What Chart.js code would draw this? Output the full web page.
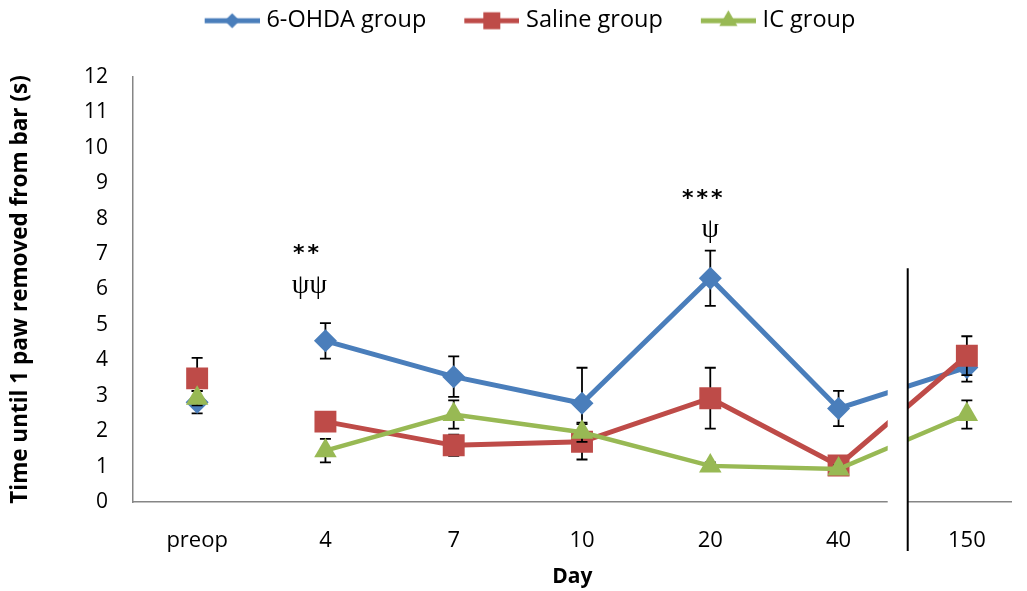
<!DOCTYPE html>
<html><head><meta charset="utf-8">
<script src="https://cdn.jsdelivr.net/npm/chart.js@4.4.1/dist/chart.umd.min.js"></script>
<style>html,body{margin:0;padding:0;background:#fff;overflow:hidden}#wrap{width:1027px;height:591px;position:relative}</style>
</head><body><div id="wrap"><canvas id="c"></canvas></div>
<script>
const categories = ['preop', '4', '7', '10', '20', '40', '150'];
const seriesNames = ['6-OHDA group', 'Saline group', 'IC group'];
const ohdaValues   = [2.82, 4.55, 3.54, 2.79, 6.32, 2.64, 3.80];
const ohdaErrors   = [0.32, 0.50, 0.57, 1.00, 0.78, 0.50, 0.40];
const salineValues = [3.49, 2.27, 1.60, 1.70, 2.93, 1.03, 4.13];
const salineErrors = [0.58, 0.25, 0.30, 0.50, 0.86, 0.20, 0.55];
const icValues     = [2.93, 1.45, 2.47, 1.97, 1.02, 0.93, 2.47];
const icErrors     = [0.20, 0.33, 0.40, 0.27, 0.10, 0.10, 0.40];
const yTickValues  = [0, 1, 2, 3, 4, 5, 6, 7, 8, 9, 10, 11, 12];
const annotTexts    = ['**', '\u03C8\u03C8', '***', '\u03C8'];
const annotCategory = [1, 1, 4, 4];
const annotShift    = [-0.14, -0.125, -0.05, 0];
const annotYValues  = [7.0, 6.1, 8.55, 7.7];

const colors = ['#4A7EBB', '#BE4B48', '#98B954'];
const styles = ['rectRot', 'rect', 'triangle'];
const radii = [11.5, 15.5, 13];
const legendRadii = [7.5, 12, 10.5];

function pts(vals) { return vals.map((v, i) => ({ x: i, y: v })); }

function legendIcon(i) {
  const W = 93, H = 26;
  const cv = document.createElement('canvas');
  cv.width = W; cv.height = H;
  const c = cv.getContext('2d');
  c.strokeStyle = colors[i]; c.lineWidth = 5;
  c.beginPath(); c.moveTo(W - 55, 13); c.lineTo(W, 13); c.stroke();
  c.fillStyle = colors[i];
  Chart.helpers.drawPoint(c, { pointStyle: styles[i], radius: legendRadii[i], rotation: 0, borderWidth: 0 }, W - 27.5, 13);
  return cv;
}

const errorBars = {
  id: 'errorBars',
  beforeDatasetDraw(chart, args) {
    const ds = chart.data.datasets[args.index];
    const ys = chart.scales.y, ctx = chart.ctx;
    ctx.save();
    ctx.strokeStyle = '#000'; ctx.lineWidth = 1.8;
    args.meta.data.forEach((pt, i) => {
      const v = ds.data[i].y, e = ds.errors[i];
      const t = ys.getPixelForValue(v + e), b = ys.getPixelForValue(v - e);
      ctx.beginPath();
      ctx.moveTo(pt.x, t); ctx.lineTo(pt.x, b);
      ctx.moveTo(pt.x - 5.5, t); ctx.lineTo(pt.x + 5.5, t);
      ctx.moveTo(pt.x - 5.5, b); ctx.lineTo(pt.x + 5.5, b);
      ctx.stroke();
    });
    ctx.restore();
  }
};

const axisBreak = {
  id: 'axisBreak',
  afterDatasetsDraw(chart) {
    const xs = chart.scales.x, ys = chart.scales.y, ctx = chart.ctx, a = chart.chartArea;
    const x0 = xs.getPixelForValue(5.383), x1 = xs.getPixelForValue(5.539);
    ctx.save();
    ctx.fillStyle = '#fff';
    ctx.fillRect(x0, a.top - 2, x1 - x0, a.bottom - a.top + 4);
    ctx.strokeStyle = '#000'; ctx.lineWidth = 2;
    ctx.beginPath();
    ctx.moveTo(x1, ys.getPixelForValue(6.6)); ctx.lineTo(x1, a.bottom + 49);
    ctx.stroke();
    ctx.restore();
  }
};

const annotations = {
  id: 'annotations',
  afterDatasetsDraw(chart) {
    const xs = chart.scales.x, ys = chart.scales.y, ctx = chart.ctx;
    ctx.save();
    ctx.fillStyle = '#000'; ctx.textAlign = 'center'; ctx.textBaseline = 'middle';
    annotTexts.forEach((t, i) => {
      const isStar = t.indexOf('*') >= 0;
      ctx.font = isStar ? 'bold 22px "DejaVu Sans"' : '28px "Liberation Serif"';
      ctx.letterSpacing = isStar ? '3px' : '0px';
      ctx.fillText(t, xs.getPixelForValue(annotCategory[i] + annotShift[i]), ys.getPixelForValue(annotYValues[i]));
    });
    ctx.restore();
  }
};

const legendHeight = {
  id: 'legendHeight',
  beforeLayout(chart) {
    const lg = chart.legend;
    if (lg && !lg._fixedFit) {
      const f = lg.fit.bind(lg);
      lg.fit = function () { f(); this.height = 73; };
      lg._fixedFit = true;
    }
  }
};

Chart.defaults.font.family = '"Open Sans", sans-serif';
Chart.defaults.color = '#000';

const valueSets = [ohdaValues, salineValues, icValues];
const errorSets = [ohdaErrors, salineErrors, icErrors];

new Chart(document.getElementById('c'), {
  type: 'line',
  data: {
    datasets: seriesNames.map((name, i) => ({
      label: name,
      data: pts(valueSets[i]),
      errors: errorSets[i],
      borderColor: colors[i],
      backgroundColor: colors[i],
      borderWidth: i === 2 ? 4.5 : 5,
      pointStyle: styles[i],
      pointRadius: radii[i],
      pointHoverRadius: radii[i],
      pointBorderWidth: 0,
      pointBackgroundColor: colors[i],
      tension: 0,
      segment: { borderColor: (c) => c.p0DataIndex === 0 ? 'rgba(0,0,0,0)' : undefined },
      order: 3 - i
    }))
  },
  options: {
    responsive: true,
    maintainAspectRatio: false,
    animation: false,
    events: [],
    layout: { padding: { left: 0, right: 0, top: 4, bottom: 0 } },
    plugins: {
      tooltip: { enabled: false },
      legend: {
        position: 'top',
        labels: {
          usePointStyle: true,
          pointStyleWidth: 83,
          padding: 5,
          font: { size: 23.5 },
          sort: (a, b) => a.datasetIndex - b.datasetIndex,
          generateLabels(chart) {
            const items = Chart.defaults.plugins.legend.labels.generateLabels(chart);
            items.forEach(it => { it.pointStyle = legendIcon(it.datasetIndex); });
            return items;
          }
        }
      }
    },
    scales: {
      x: {
        type: 'linear',
        min: -0.5,
        max: 6.348,
        afterBuildTicks(s) { s.ticks = categories.map((c, i) => ({ value: i })); },
        afterFit(s) { s.height = 89; s.paddingLeft = 0; s.paddingRight = 0; },
        grid: { display: false },
        border: { display: true, color: '#868686', width: 1.5 },
        ticks: { font: { size: 22 }, padding: 18, maxRotation: 0, autoSkip: false,
                 callback: (v) => categories[v] },
        title: { display: true, text: 'Day', font: { size: 21, weight: 'bold' }, padding: { top: 0, bottom: 1 } }
      },
      y: {
        min: 0,
        max: 12,
        afterBuildTicks(s) { s.ticks = yTickValues.map(v => ({ value: v })); },
        afterFit(s) { s.width = 133; },
        grid: { display: false },
        border: { display: true, color: '#868686', width: 1.5 },
        ticks: { font: { size: 21 }, padding: 17 },
        title: { display: true, text: 'Time until 1 paw removed from bar (s)', font: { size: 22.5, weight: 'bold' }, padding: { top: 7, bottom: 0 } }
      }
    }
  },
  plugins: [errorBars, axisBreak, annotations, legendHeight]
});
</script></body></html>
